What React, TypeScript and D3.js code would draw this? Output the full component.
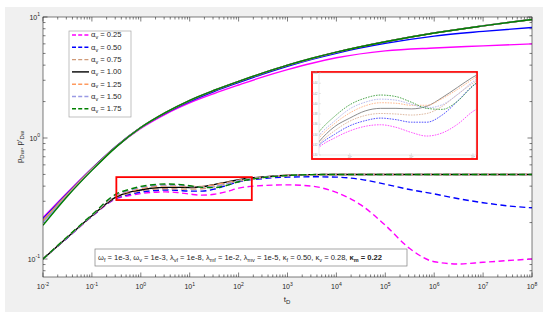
import * as d3 from 'd3';

// alpha_v values of the seven cases
const alphaV = ['0.25', '0.50', '0.75', '1.00', '1.25', '1.50', '1.75'];

// pressure p_Dw, sampled at log10(t_D)
const pressLogT = [-2, -1.5, -1, -0.5, 0, 0.5, 1, 1.5, 2, 2.5, 3, 3.5, 4, 5, 6, 7, 8];
const p025 = [0.22, 0.355, 0.56, 0.85, 1.2, 1.57, 1.95, 2.33, 2.74, 3.2, 3.67, 4.15, 4.6, 5.25, 5.55, 5.77, 6.0];
const p050 = [0.215, 0.35, 0.56, 0.86, 1.22, 1.6, 2.0, 2.42, 2.87, 3.38, 3.92, 4.47, 5.02, 6.05, 6.95, 7.6, 8.2];
const p075 = [0.21, 0.345, 0.555, 0.855, 1.22, 1.61, 2.03, 2.46, 2.92, 3.43, 3.98, 4.54, 5.11, 6.24, 7.37, 8.44, 9.54];
const p100 = [0.205, 0.34, 0.55, 0.85, 1.22, 1.61, 2.04, 2.47, 2.93, 3.44, 3.99, 4.55, 5.12, 6.25, 7.38, 8.45, 9.55];
const p125 = [0.207, 0.342, 0.552, 0.852, 1.22, 1.62, 2.05, 2.48, 2.94, 3.45, 4.0, 4.56, 5.13, 6.26, 7.39, 8.46, 9.56];
const p150 = [0.2, 0.335, 0.545, 0.848, 1.22, 1.62, 2.05, 2.48, 2.94, 3.45, 4.0, 4.56, 5.13, 6.26, 7.39, 8.46, 9.56];
const p175 = [0.19, 0.33, 0.54, 0.845, 1.22, 1.62, 2.05, 2.48, 2.94, 3.45, 4.0, 4.56, 5.13, 6.25, 7.38, 8.45, 9.55];

// pressure derivative p'_Dw, sampled at log10(t_D)
const derivLogT = [-2, -1.5, -1, -0.5, -0.25, 0, 0.25, 0.5, 0.75, 1, 1.25, 1.5, 1.75, 2, 2.5, 3, 3.5, 4, 4.5, 5, 5.5, 6, 6.5, 7, 7.5, 8];
const d025 = [0.1, 0.15, 0.225, 0.315, 0.333, 0.347, 0.356, 0.359, 0.354, 0.344, 0.337, 0.343, 0.36, 0.385, 0.405, 0.41, 0.4, 0.355, 0.28, 0.19, 0.122, 0.095, 0.091, 0.094, 0.097, 0.1];
const d050 = [0.1, 0.15, 0.226, 0.319, 0.34, 0.357, 0.367, 0.372, 0.369, 0.364, 0.364, 0.378, 0.405, 0.435, 0.462, 0.475, 0.478, 0.475, 0.455, 0.415, 0.375, 0.345, 0.315, 0.292, 0.275, 0.265];
const d075 = [0.1, 0.151, 0.227, 0.322, 0.347, 0.366, 0.377, 0.381, 0.38, 0.378, 0.381, 0.395, 0.418, 0.44, 0.47, 0.488, 0.497, 0.5, 0.5, 0.5, 0.5, 0.5, 0.5, 0.5, 0.5, 0.5];
const d100 = [0.1, 0.151, 0.228, 0.326, 0.355, 0.372, 0.386, 0.391, 0.391, 0.39, 0.395, 0.412, 0.432, 0.452, 0.477, 0.492, 0.498, 0.5, 0.5, 0.5, 0.5, 0.5, 0.5, 0.5, 0.5, 0.5];
const d125 = [0.1, 0.152, 0.229, 0.333, 0.361, 0.382, 0.396, 0.402, 0.401, 0.397, 0.397, 0.41, 0.428, 0.448, 0.476, 0.492, 0.498, 0.5, 0.5, 0.5, 0.5, 0.5, 0.5, 0.5, 0.5, 0.5];
const d150 = [0.1, 0.152, 0.23, 0.338, 0.366, 0.39, 0.403, 0.409, 0.407, 0.399, 0.392, 0.398, 0.418, 0.443, 0.473, 0.491, 0.498, 0.5, 0.5, 0.5, 0.5, 0.5, 0.5, 0.5, 0.5, 0.5];
const d175 = [0.1, 0.153, 0.232, 0.345, 0.375, 0.398, 0.411, 0.417, 0.414, 0.403, 0.391, 0.389, 0.405, 0.435, 0.47, 0.49, 0.498, 0.5, 0.5, 0.5, 0.5, 0.5, 0.5, 0.5, 0.5, 0.5];

const pressSeries = [p025, p050, p075, p100, p125, p150, p175];
const derivSeries = [d025, d050, d075, d100, d125, d150, d175];

// tick labels
const xTickExp = [-2, -1, 0, 1, 2, 3, 4, 5, 6, 7, 8];
const yTickExp = [-1, 0, 1];
const insetXTickExp = [0, 1, 2];
const insetYTicks = [0.3, 0.32, 0.34, 0.36, 0.38, 0.4, 0.42, 0.44, 0.46];

// parameter annotation: [symbol, subscript, text]
const params = [
  ['ω', 'f', ' = 1e-3, '],
  ['ω', 'v', ' = 1e-3, '],
  ['λ', 'vf', ' = 1e-8, '],
  ['λ', 'mf', ' = 1e-2, '],
  ['λ', 'mv', ' = 1e-5, '],
  ['κ', 'f', ' = 0.50, '],
  ['κ', 'v', ' = 0.28, '],
  ['κ', 'm', ' = 0.22'],
];

const colors = ['#ff00ff', '#0000ff', '#cf9a78', '#000000', '#ff9a5e', '#9a9ae4', '#008000'];
const font = '"Liberation Sans", Arial, Helvetica, sans-serif';
const ink = '#262626';

const plot = { l: 43, r: 532, t: 17, b: 277 };
const inset = { l: 319, r: 476, t: 73, b: 155 };

const x = d3.scaleLog().domain([1e-2, 1e8]).range([plot.l, plot.r]);
const y = d3.scaleLog().domain([0.071, 10]).range([plot.b, plot.t]);
const xi = d3.scaleLog().domain([Math.pow(10, -0.5), Math.pow(10, 2.05)]).range([inset.l, inset.r]);
const yi = d3.scaleLinear().domain([0.3, 0.46]).range([inset.b, inset.t]);

type Pt = [number, number];
const toPts = (ts: number[], vs: number[]): Pt[] => ts.map((e, i) => [Math.pow(10, e), vs[i]]);

const mainLine = d3.line<Pt>().x(d => x(d[0])).y(d => y(d[1])).curve(d3.curveMonotoneX);
const insetLine = d3.line<Pt>().x(d => xi(d[0])).y(d => yi(d[1])).curve(d3.curveMonotoneX);

const Pow = ({ px, py, exp, anchor, size = 7 }: { px: number; py: number; exp: number; anchor: string; size?: number }) => (
  <text x={px} y={py} textAnchor={anchor} fontSize={size} fill={ink} fontFamily={font}>
    10<tspan dy={-size * 0.45} fontSize={size * 0.72}>{exp}</tspan>
  </text>
);

const xMinor: number[] = [];
for (let e = -2; e < 8; e++) for (let k = 2; k <= 9; k++) xMinor.push(k * Math.pow(10, e));
const yMinor: number[] = [];
for (let e = -2; e < 1; e++) for (let k = 2; k <= 9; k++) {
  const v = k * Math.pow(10, e);
  if (v > 0.071 && v < 10) yMinor.push(v);
}

export default function App() {
  const legendY = (i: number) => 35 + i * 12.3;
  return (
    <svg width={550} height={320} style={{ position: 'absolute', left: 0, top: 0, display: 'block' }}>
      <defs>
        <clipPath id="plotClip">
          <rect x={plot.l} y={plot.t} width={plot.r - plot.l} height={plot.b - plot.t} />
        </clipPath>
        <clipPath id="insetClip">
          <rect x={inset.l} y={inset.t} width={inset.r - inset.l} height={inset.b - inset.t} />
        </clipPath>
      </defs>
      <rect x={0} y={0} width={550} height={320} fill="#ffffff" />
      <rect x={5} y={7} width={538} height={305} fill="#f0f0f0" />
      <rect x={plot.l} y={plot.t} width={plot.r - plot.l} height={plot.b - plot.t} fill="#ffffff" />

      {/* ticks */}
      <g stroke={ink} strokeWidth={0.6}>
        {xTickExp.map(e => {
          const px = x(Math.pow(10, e));
          return (
            <g key={'xt' + e}>
              <line x1={px} x2={px} y1={plot.b} y2={plot.b - 4.5} />
              <line x1={px} x2={px} y1={plot.t} y2={plot.t + 4.5} />
            </g>
          );
        })}
        {xMinor.map((v, i) => {
          const px = x(v);
          return (
            <g key={'xm' + i}>
              <line x1={px} x2={px} y1={plot.b} y2={plot.b - 2.5} />
              <line x1={px} x2={px} y1={plot.t} y2={plot.t + 2.5} />
            </g>
          );
        })}
        {yTickExp.map(e => {
          const py = y(Math.pow(10, e));
          return (
            <g key={'yt' + e}>
              <line x1={plot.l} x2={plot.l + 4.5} y1={py} y2={py} />
              <line x1={plot.r} x2={plot.r - 4.5} y1={py} y2={py} />
            </g>
          );
        })}
        {yMinor.map((v, i) => {
          const py = y(v);
          return (
            <g key={'ym' + i}>
              <line x1={plot.l} x2={plot.l + 2.5} y1={py} y2={py} />
              <line x1={plot.r} x2={plot.r - 2.5} y1={py} y2={py} />
            </g>
          );
        })}
      </g>

      {/* curves */}
      <g clipPath="url(#plotClip)" fill="none">
        {pressSeries.map((s, i) => (
          <path key={'p' + i} d={mainLine(toPts(pressLogT, s)) || ''} stroke={colors[i]} strokeWidth={1.4} />
        ))}
        {derivSeries.map((s, i) => (
          <path key={'d' + i} d={mainLine(toPts(derivLogT, s)) || ''} stroke={colors[i]} strokeWidth={1.4}
            strokeDasharray={i === 3 ? undefined : '6,3.5'} />
        ))}
      </g>

      <rect x={plot.l} y={plot.t} width={plot.r - plot.l} height={plot.b - plot.t} fill="none" stroke={ink} strokeWidth={0.6} />

      {/* axis tick labels */}
      {xTickExp.map(e => (
        <Pow key={'xl' + e} px={x(Math.pow(10, e))} py={289} exp={e} anchor="middle" />
      ))}
      {yTickExp.map(e => (
        <Pow key={'yl' + e} px={plot.l - 3} py={y(Math.pow(10, e)) + 2.5} exp={e} anchor="end" />
      ))}

      <text x={287} y={302} textAnchor="middle" fontSize={8} fill={ink} fontFamily={font}>
        t<tspan dy={2} fontSize={6}>D</tspan>
      </text>
      <text transform="translate(22,147) rotate(-90)" textAnchor="middle" fontSize={8} fill={ink} fontFamily={font}>
        p<tspan dy={2} fontSize={6}>Dw</tspan><tspan dy={-2}>, p′</tspan><tspan dy={2} fontSize={6}>Dw</tspan>
      </text>

      {/* zoom region */}
      <rect x={x(Math.pow(10, -0.5))} y={y(0.475)} width={x(Math.pow(10, 2.27)) - x(Math.pow(10, -0.5))}
        height={y(0.307) - y(0.475)} fill="none" stroke="#ff0000" strokeWidth={1.8} />

      {/* inset */}
      <rect x={312} y={72} width={165} height={87} fill="#ffffff" stroke="#ff0000" strokeWidth={1.8} />
      <g stroke="#c8c8c8" strokeWidth={0.4}>
        <rect x={inset.l} y={inset.t} width={inset.r - inset.l} height={inset.b - inset.t} fill="none" />
        {insetXTickExp.map(e => (
          <line key={'ixt' + e} x1={xi(Math.pow(10, e))} x2={xi(Math.pow(10, e))} y1={inset.b} y2={inset.b - 2} />
        ))}
        {insetYTicks.map(v => (
          <line key={'iyt' + v} x1={inset.l} x2={inset.l + 2} y1={yi(v)} y2={yi(v)} />
        ))}
      </g>
      {insetXTickExp.map(e => (
        <text key={'ixl' + e} x={xi(Math.pow(10, e))} y={158} textAnchor="middle" fontSize={2.6} fill="#999" fontFamily={font}>
          10<tspan dy={-1} fontSize={2}>{e}</tspan>
        </text>
      ))}
      {insetYTicks.map(v => (
        <text key={'iyl' + v} x={inset.l - 1.5} y={yi(v) + 1} textAnchor="end" fontSize={2.6} fill="#999" fontFamily={font}>
          {v.toFixed(2)}
        </text>
      ))}
      <g clipPath="url(#insetClip)" fill="none" opacity={0.75}>
        {derivSeries.map((s, i) => (
          <path key={'i' + i} d={insetLine(toPts(derivLogT, s)) || ''} stroke={i === 3 ? '#555555' : colors[i]}
            strokeWidth={0.9} strokeDasharray={i === 3 ? undefined : '1.6,1.1'} />
        ))}
      </g>

      {/* legend */}
      <rect x={69} y={31} width={62} height={86} fill="#ffffff" stroke="#a6a6a6" strokeWidth={0.7} />
      {alphaV.map((a, i) => (
        <g key={'lg' + i}>
          <line x1={72} x2={89} y1={legendY(i)} y2={legendY(i)} stroke={colors[i]} strokeWidth={1.4}
            strokeDasharray={i === 3 ? undefined : '4,2.2'} />
          <text x={91} y={legendY(i) + 2.4} fontSize={7.6} fill={ink} fontFamily={font}>
            α<tspan dy={1.8} fontSize={5.4}>v</tspan><tspan dy={-1.8}> = {a}</tspan>
          </text>
        </g>
      ))}

      {/* parameter box */}
      <rect x={95} y={249} width={312} height={17} fill="#ffffff" stroke="#7f7f7f" strokeWidth={0.7} />
      <text x={98} y={260} fontSize={7.55} fill={ink} fontFamily={font}>
        {params.map((p, i) => {
          const bold = i === params.length - 1;
          return [
            <tspan key={'s' + i} fontWeight={bold ? 'bold' : 'normal'}>{p[0]}</tspan>,
            <tspan key={'b' + i} dy={2} fontSize={5.5} fontWeight={bold ? 'bold' : 'normal'}>{p[1]}</tspan>,
            <tspan key={'t' + i} dy={-2} fontWeight={bold ? 'bold' : 'normal'}>{p[2]}</tspan>,
          ];
        })}
      </text>
    </svg>
  );
}
